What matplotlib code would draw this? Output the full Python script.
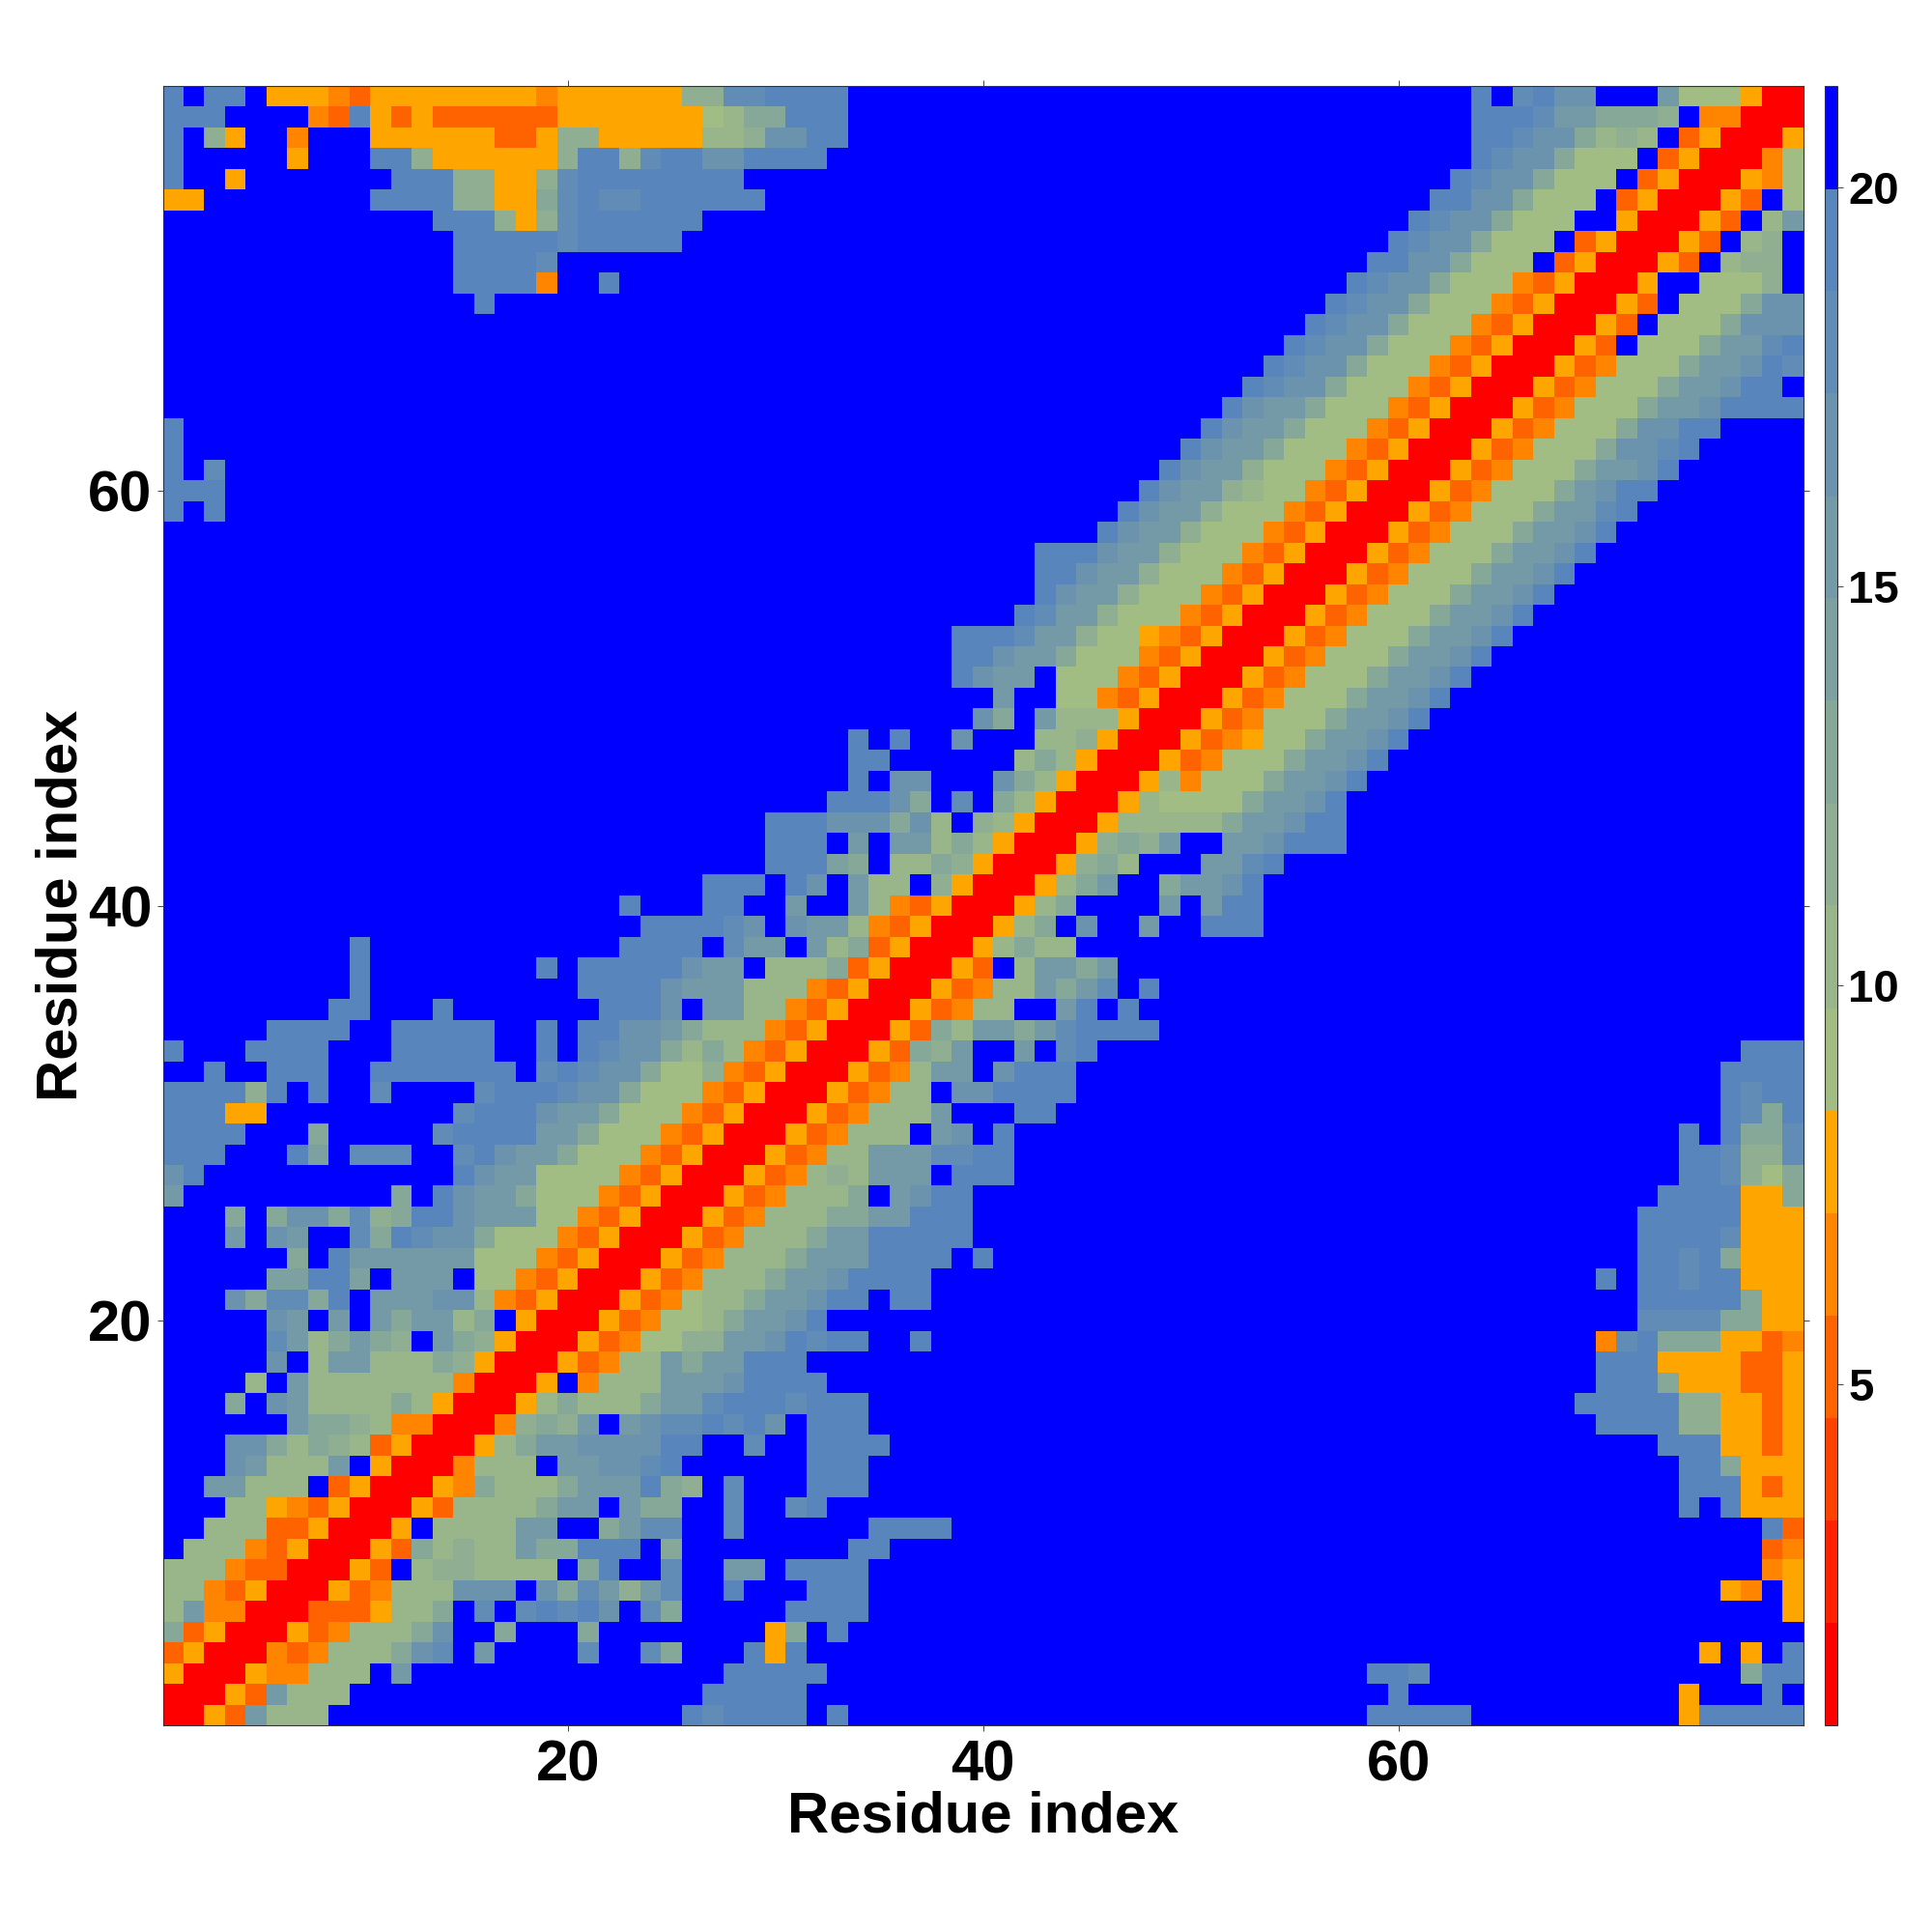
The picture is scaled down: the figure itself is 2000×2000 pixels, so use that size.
import numpy as np
import matplotlib
matplotlib.use("Agg")
import matplotlib.pyplot as plt
from matplotlib.colors import ListedColormap, BoundaryNorm

plt.rcParams['font.family'] = ['Liberation Sans', 'DejaVu Sans']
plt.rcParams['font.weight'] = 'bold'

# distance bands of the colour bar, one hex digit per cell below (0 = closest, f = far)
band_edges = [0.73, 2.01, 3.30, 4.58, 5.86, 7.15, 8.43, 9.71, 11.00,
              12.28, 13.57, 14.85, 16.13, 17.42, 18.70, 19.98, 21.27]
band_colors = ['#ff0000', '#ff2100', '#ff4200', '#ff6300', '#ff8400', '#ffa500',
               '#a2bd84', '#99b68b', '#90af92', '#86a899', '#7da1a0', '#749aa7',
               '#6b93ae', '#618cb5', '#5885bc', '#0000ff']
tick_values = [20, 40, 60]
bar_ticks = [5, 10, 15, 20]
n_res = 79

# rows run from residue 79 (top) down to residue 1, columns 1-26
left_cols = [
    "efeef555435555555545555558",
    "eeeffff43e5353333335555555",
    "ef85ff4fff5555553358855555",
    "efffff5fffee85555558ee8dee",
    "eff5fffffffeee88558deeeeee",
    "55ffffffffeeee88559deddeee",
    "f"*13 + "eee858deeeeee",
    "f"*14 + "eeeeedeeeeef",
    "f"*14 + "eeeed" + "f"*7,
    "f"*14 + "eeee4ffeffff",
    "f"*15 + "e" + "f"*10,
    "f"*26, "f"*26, "f"*26, "f"*26, "f"*26,
    "e" + "f"*25,
    "e" + "f"*25,
    "efd" + "f"*23,
    "eee" + "f"*23,
    "efe" + "f"*23,
    "f"*26, "f"*26, "f"*26, "f"*26, "f"*26,
    "f"*26, "f"*26, "f"*26, "f"*26, "f"*26, "f"*26, "f"*26,
    "f"*26, "f"*26, "f"*26, "f"*26, "f"*26, "f"*26,
    "f"*22 + "efff",
    "f"*23 + "eee",
    "f"*9 + "e" + "f"*12 + "eeee",
    "f"*9 + "e" + "f"*8 + "efeeeeec",
    "f"*9 + "e" + "f"*10 + "eeeecb",
    "f"*8 + "eefffe" + "f"*7 + "eeecf",
    "fffffeeeeffeeeeeffefeeccb9",
    "efffeeeefffeeeeeffefedcc97",
    "ffeffeeeffeeeeeeefdedcc966",
    "eeee8efeffdffffdeeedcc9666",
    "eee55" + "f"*9 + "deeecbb96664",
    "eeeefff9fffffdeeeebb966643",
    "eeefffeafdddffdecbb9666435",
    "ce" + "f"*12 + "ecbb66664350",
    "b" + "f"*10 + "9fecbb966643500",
    "fff9f9cc9d89eecbbb66435000",
    "fffbfcbffd9edcc96664350005",
    "ffffff9febbbbbb66643500053",
    "fffffaaeeafbbbf66435000534",
    "fffc9dd9efbbbcc74350005346",
    "fffffcbfbfb9bb79f500053466",
    "fffffdb79b98fb985000534668",
    "fffffcf7bb77798500053477b9",
    "ffff7fb777777740005f4777bb",
    "fff9fcb" "7777" "97" "5" "000" "579" "777" "9" "bb",
    "ffffff" "b" "99" "8" "7" "44" "000" "4" "8" "9" "8" "b" "f" "b" "c" "dd",
    "fff" "cc" "9" "7" "9" "8" "7" "3" "5" "000" "5" "7" "9" "bb" "c" "ccc" "ee",
    "fff" "c" "b" "777" "b" "f" "5" "000" "4" "777" "f" "bb" "cc" "d" "e" "f",
    "ff" "bb" "777" "f" "3" "5" "000" "5" "4" "9" "777" "9" "bbb" "e" "9" "8",
    "fff" "77" "5" "4" "3" "5" "000" "5" "3" "7777" "9" "bb" "f" "b" "99" "f",
    "ff" "777" "33" "5" "000" "5" "f" "7777" "bb" "ff" "9" "b" "dd" "f",
    "f" "777" "4" "3" "5" "000" "5" "3" "9" "7" "8" "77" "b" "99" "eee" "f" "9" "f",
    "777" "4" "33" "000" "5" "3" "f" "7" "88" "7777" "f" "9" "e" "ff" "d" "f",
    "77" "4" "3" "5" "000" "5" "3" "4" "777" "ccc" "f" "c" "9" "d" "b" "8" "b" "d" "f",
    "7" "b" "44" "000" "333" "5" "77" "9" "f" "d" "f" "d" "e" "d" "e" "c" "f" "d" "9" "f",
    "9" "3" "5" "000" "5" "3" "4" "777" "9" "c" "ff" "9" "fff" "9" "fffff",
    "3" "5" "000" "4" "3" "4" "777" "9" "c" "d" "f" "b" "ffff" "d" "ff" "d" "9" "f",
    "5" "000" "5" "44" "777" "f" "b" + "f"*14,
    "000" "5" "3" "b" "777" + "f"*17,
    "00" "5" "3" "b" "777" + "f"*17 + "e",
]

# columns 27-53
mid_cols = [
    "8" "dd" "eeee" + "f"*20,
    "6799" "eee" + "f"*20,
    "77" "8" "cc" "ee" + "f"*20,
    "cc" "eeee" + "f"*21,
    "ee" + "f"*25,
    "eee" + "f"*24,
    "f"*27, "f"*27, "f"*27, "f"*27, "f"*27, "f"*27, "f"*27, "f"*27,
    "f"*26 + "e",
    "f"*25 + "ec",
    "f"*24 + "ecb",
    "f"*23 + "ecbb",
    "f"*22 + "ecbb8",
    "f"*21 + "ecbb87",
    "f"*20 + "ecbb866",
    "f"*19 + "ecbb8666",
    "f"*16 + "eee" "cbb86664",
    "f"*16 + "ee" "cbb866643",
    "f"*16 + "ecbb8666435",
    "f"*15 + "edbb86664350",
    "f"*12 + "eee" "d" "bb" "8" "66" "5" "4" "3" "5" "00",
    "f"*12 + "ee" "c" "bb" "9" "666" "4" "3" "5" "000",
    "f"*12 + "e" "c" "bb" "f" "666" "4" "3" "5" "000" "5",
    "f"*14 + "b" "ff" "66" "4" "3" "5" "000" "5" "3",
    "f"*13 + "c9fb777" "5" "000" "534",
    "f"*7 + "e" "f" "e" "ff" "c" "fff" "778" "5" "000" "5345",
    "f"*7 + "ee" "ffffff" "7" "9" "7" "5" "000" "5" "3" "4" "66",
    "f"*7 + "e" "f" "cc" "fff" "c" "9" "7" "5" "000" "5" "7" "4" "666",
    "f"*6 + "eee" "c" "9" "f" "d" "f" "9" "7" "5" "000" "5" "7" "6" "666" "9",
    "fff" "eee" "ccc" "9" "c" "7" "f" "8" "7" "5" "000" "5" "77777" "9" "b",
    "fff" "eee" "f" "b" "f" "bb" "7" "9" "7" "5" "000" "5" "8" "9" "8" "b" "ff" "bb",
    "fff" "eee" "a" "9" "f" "77" "9" "8" "5" "000" "5" "8" "9" "7" "fff" "bb" "d",
    "eee" "f" "e" "c" "f" "b" "77" "f" "8" "5" "000" "5" "7" "9" "b" "ff" "9" "bb" "c" "e",
    "ee" "ff" "b" "ff" "b" "7" "4" "3" "5" "000" "5" "7" "9" "ffff" "b" "f" "b" "ee",
    "e" "d" "c" "f" "c" "bb" "7" "4" "3" "5" "000" "5" "7" "9" "f" "c" "ff" "b" "ff" "eee",
    "f" "d" "bb" "f" "b" "7" "9" "3" "5" "000" "5" "7" "9" "77" + "f"*9,
    "bb" "f" "777" "9" "3" "5" "000" "5" "3" "f" "7" "bb" "9" "b" + "f"*7,
    "bb" "777" "4" "3" "5" "000" "5" "3" "4" "77" "b" "9" "b" "d" "f" "e" "fffff",
    "bb" "77" "4" "3" "5" "000" "5" "3" "4" "77" "ff" "b" "e" "f" "e" "ffffff",
    "777" "4" "3" "5" "000" "5" "3" "9" "7" "bb" "9" "b" "d" "eeee" "fffff",
    "9" "7" "4" "3" "5" "000" "5" "3" "9" "8" "b" "ff" "b" "f" "d" "e" + "f"*8,
    "8" "4" "3" "5" "000" "5" "3" "4" "7" "bb" "f" "c" "eee" + "f"*9,
    "4" "3" "5" "000" "5" "3" "4" "77" "f" "cc" "eeee" + "f"*9,
    "3" "5" "000" "5" "3" "4" "777" "b" "fff" "ee" + "f"*10,
    "5" "000" "5" "3" "4" "777" "f" "b" "c" "f" "e" + "f"*12,
    "000" "5" "3" "4" "77" "bbb" "dd" "ee" + "f"*12,
    "00" "5" "3" "4" "7" "8" "7" "bbb" "f" "eee" + "f"*12,
    "0" "5" "3" "4" "777" "9" "f" "b" "c" "ee" + "f"*14,
    "5" "3" "4" "777" "99" "bb" "eee" + "f"*14,
    "3" "4" "777" "9" "bb" "eeeee" + "f"*14,
    "4" "777" "9" "bb" "b" "eeee" "f" "e" + "f"*13,
    "777" "9" "bb" "c" "eeee" + "f"*16,
    "77" "9" "bb" "c" "ee" "f" "ee" + "f"*16,
    "7" "9" "bb" "c" "e" + "f"*21,
    "8" "bb" "c" "e" "d" "ee" "ff" "e" + "f"*16,
    "bb" "eee" + "f"*22,
    "b" "c" "eeee" + "f"*21,
    "d" "eee" "d" "eee" + "f"*19,
    "e" "d" "e" "c" "f" "eee" + "f"*19,
    "ff" "d" "ff" "eeee" + "f"*18,
    "fffff" "eee" + "f"*19,
    "f" "d" "fff" "eee" + "f"*19,
    "f" "d" "ff" "d" "e" + "f"*21,
    "f" "d" "ffffff" "eeee" + "f"*15,
    "f"*7 + "ee" + "f"*18,
    "f" "bb" "f" "eeee" + "f"*19,
    "f" "e" "fff" "eee" + "f"*19,
    "ffff" "eeee" + "f"*19,
    "fff" "5" "9" "f" "e" + "f"*20,
    "ff" "e" "5" "e" + "f"*22,
    "f" "eeeee" + "f"*21,
    "eeeee" + "f"*22,
    "d" "eeee" "f" "e" + "f"*20,
]

# columns 54-79
right_cols = [
    "f"*10 + "e" "f" "d" "e" "cc" "fff" "b" "666" "5" "00",
    "f"*10 + "eee" "d" "bb" "9" "99" "8" "f" "44" "000",
    "f"*10 + "ee" "d" "cc" "9" "7" "8" "7" "f" "3" "5" "000" "5",
    "f"*10 + "e" "d" "cc" "9" "666" "f" "3" "5" "000" "4" "6",
    "f"*9 + "e" "d" "cc" "9" "666" "f" "3" "5" "000" "5" "4" "6",
    "f"*8 + "ee" "cc" "9" "666" "f" "3" "5" "000" "5" "3" "f" "6",
    "f"*7 + "e" "d" "cc" "9" "666" "ff" "5" "000" "5" "3" "f" "7" "b",
    "f"*6 + "e" "d" "cc" "9" "666" "f" "3" "5" "000" "5" "3" "f" "7" "8" "f",
    "f"*5 + "ee" "cc" "9" "666" "f" "3" "5" "000" "5" "3" "f" "7" "88" "f",
    "f"*4 + "e" "d" "cc" "9" "666" "4" "3" "5" "000" "5" "ff" "666" "8" "f",
    "f"*3 + "e" "d" "cc" "9" "666" "4" "3" "5" "000" "5" "3" "f" "666" "9" "cc",
    "f"*2 + "e" "d" "cc" "9" "666" "4" "3" "5" "000" "5" "3" "f" "666" "9" "cc" "c",
    "f" "e" "d" "cc" "9" "666" "4" "3" "5" "000" "5" "3" "f" "666" "9" "bb" "d" "e",
    "e" "d" "cc" "9" "666" "4" "3" "5" "000" "5" "3" "4" "666" "9" "bb" "c" "e" "d",
    "d" "cc" "9" "666" "4" "3" "5" "000" "5" "3" "4" "666" "9" "bb" "c" "ee" "f",
    "bb" "9" "666" "4" "3" "5" "000" "5" "3" "4" "666" "9" "bb" "c" "eeee",
    "b" "9" "666" "4" "3" "5" "000" "5" "3" "4" "666" "9" "cc" "ee" "ffff",
    "9" "666" "4" "3" "5" "000" "5" "3" "4" "666" "9" "cc" "d" "e" "fffff",
    "666" "4" "3" "5" "000" "5" "3" "4" "666" "9" "bb" "c" "e" "ffffff",
    "66" "4" "3" "5" "000" "5" "3" "4" "666" "9" "b" "c" "ee" "fffffff",
    "6" "4" "3" "5" "000" "5" "3" "4" "666" "9" "bb" "d" "e" + "f"*8,
    "4" "3" "5" "000" "5" "3" "4" "666" "9" "bb" "c" "e" + "f"*9,
    "3" "5" "000" "5" "3" "4" "666" "9" "bb" "c" "e" + "f"*10,
    "5" "000" "5" "3" "4" "666" "9" "bb" "c" "e" + "f"*11,
    "000" "5" "3" "4" "666" "9" "bb" "c" "e" + "f"*12,
    "00" "5" "3" "4" "666" "9" "bb" "c" "e" + "f"*13,
    "0" "5" "3" "4" "666" "9" "bb" "c" "e" + "f"*14,
    "5" "3" "4" "666" "9" "bb" "c" "e" + "f"*15,
    "3" "4" "666" "9" "bb" "c" "e" + "f"*16,
    "4" "666" "9" "bb" "c" "e" + "f"*17,
    "666" "9" "bb" "c" "e" + "f"*18,
    "66" "9" "bb" "c" "e" + "f"*19,
    "6" "9" "bb" "c" "e" + "f"*20,
    "9" "bb" "c" "e" + "f"*21,
    "bb" "c" "e" + "f"*22,
    "b" "c" "ee" + "f"*22,
    "c" "eee" + "f"*22,
    "e" + "f"*25,
    "f"*26, "f"*26, "f"*26, "f"*26, "f"*26, "f"*26, "f"*26, "f"*26,
    "f"*23 + "eee",
    "f"*22 + "eeee",
    "f"*22 + "edee",
    "f"*22 + "ed9e",
    "f"*20 + "efe99d",
    "f"*20 + "eed88d",
    "f"*20 + "eed869",
    "f"*19 + "eeee" "55" "9",
    "f"*18 + "eeeee" "555",
    "f"*18 + "eeee" "d" "555",
    "f"*18 + "ee" "d" "e" "9" "555",
    "f"*16 + "e" "f" "ee" "d" "ee" "555",
    "f"*18 + "eeeee" "9" "55",
    "f"*18 + "ddd" "d" "99" "55",
    "f"*16 + "4" "d" "e" "999" "55" "3" "4",
    "f"*16 + "eee" "5555" "33" "5",
    "f"*16 + "eee" "9" "555" "33" "5",
    "f"*15 + "eeeee" "88" "55" "3" "5",
    "f"*16 + "eeee" "88" "55" "3" "5",
    "f"*19 + "eee" "55" "3" "5",
    "f"*20 + "ee" "9" "555",
    "f"*20 + "eee" "5" "3" "5",
    "f"*20 + "e" "f" "e" "555",
    "f"*24 + "e3",
    "f"*24 + "34",
    "f"*24 + "45",
    "f"*22 + "54f5",
    "f"*25 + "5",
    "f"*26,
    "f"*21 + "5f5fe",
    "f"*5 + "eed" + "f"*15 + "9ee",
    "f"*6 + "e" + "f"*13 + "5fffef",
    "f"*5 + "eeeee" + "f"*10 + "5eeeee",
]

codes = [l + m + r for l, m, r in zip(left_cols, mid_cols, right_cols)]
bands = np.array([[int(c, 16) for c in row] for row in codes])
mids = (np.array(band_edges[:-1]) + np.array(band_edges[1:])) / 2
dist = mids[bands]

residues = np.arange(1, n_res + 1)
cmap = ListedColormap(band_colors)
norm = BoundaryNorm(band_edges, cmap.N)

fig = plt.figure(figsize=(20, 20), dpi=100)
ax = fig.add_axes([168.5/2000, 1 - 1786/2000, (1866.8 - 168.5)/2000, (1786 - 89)/2000])
mesh = ax.pcolormesh(residues, residues[::-1], dist, cmap=cmap, norm=norm, shading='nearest')
ax.set_xlim(0.5, n_res + 0.5)
ax.set_ylim(0.5, n_res + 0.5)
ax.set_xticks(tick_values)
ax.set_yticks(tick_values)
ax.tick_params(length=4.5, width=0.7, color='#444444', labelsize=43, top=True, right=True)
ax.tick_params(axis='x', pad=6)
ax.tick_params(axis='y', pad=3.5)
for s in ax.spines.values():
    s.set_linewidth(0.8)
    s.set_color('#333333')
ax.set_xlabel('Residue index', fontsize=43, fontweight='bold', va='center')
ax.set_ylabel('Residue index', fontsize=43, fontweight='bold', va='center')
ax.xaxis.set_label_coords(0.5, -0.0562)
ax.yaxis.set_label_coords(-0.0615, 0.5)

cax = fig.add_axes([1889/2000, 1 - 1786/2000, 13/2000, (1786 - 89)/2000])
cb = fig.colorbar(mesh, cax=cax, ticks=bar_ticks, spacing='proportional')
cb.ax.tick_params(length=4, width=0.7, color='#444444', pad=4, labelsize=34)
cb.outline.set_linewidth(0.8)
cb.outline.set_edgecolor('#333333')
cb.minorticks_off()

fig.savefig('out.png', dpi=100)
